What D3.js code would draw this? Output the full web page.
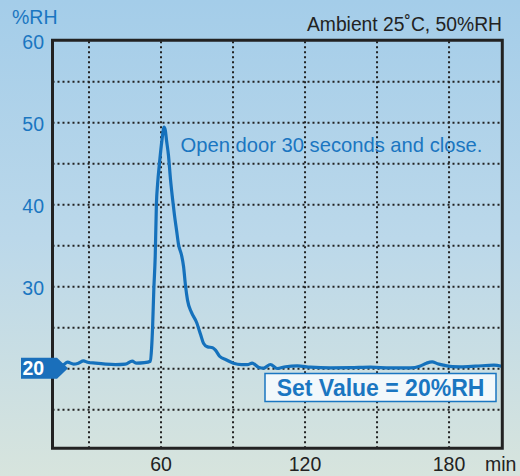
<!DOCTYPE html>
<html><head><meta charset="utf-8">
<script src="https://cdn.jsdelivr.net/npm/d3@7"></script>
<style>
html,body{margin:0;padding:0;}
svg{display:block;font-family:"Liberation Sans",Arial,Helvetica,sans-serif;}
</style></head>
<body>
<script>
// ---- data ----
const timeMin = [15,17.1,19.2,21.25,23.75,25.8,27.9,29.6,32.9,37.1,41.25,45.4,48.2,50,53.3,55.8,
  56.3,56.7,57.2,57.8,58.3,58.8,59.6,60.6,61.5,62.0,62.5,63.3,64.2,65,65.8,66.7,67.5,68.75,69.6,70.4,71.25,72.9,75,76.7,77.9,79.6,81.7,82.9,84.6,87.5,
  90.4,93.75,96.25,98.2,100.8,103,105.8,108.6,112.1,117,122.5,130.8,139.2,147.5,155.8,164.2,168.3,170.8,173.2,175.4,178,181.7,185,191.25,198.9,202.1];
const humidity = [20.49,20.49,20.37,20.73,20.49,20.61,20.89,20.73,20.61,20.49,20.43,20.49,20.85,20.61,20.67,20.85,
  22.5,25,29.5,33.7,40.1,42.5,45.1,47.8,49.4,49.0,47.8,46.0,42.9,40.7,38.7,36.8,35.1,33.8,32.4,30.1,28.3,26.8,25.6,24.1,23.05,22.6,22.5,22.2,21.46,21.0,
  20.6,20.43,20.43,20.61,20.12,20.0,20.45,19.96,20.18,20.28,20.12,20.04,20.06,20.12,20.04,20.04,20.28,20.61,20.77,20.55,20.37,20.18,20.16,20.24,20.37,20.24];
const yTickLabels = [30,40,50,60];
const xTickLabels = [60,120,180];
const xGrid = [30,60,90,120,150,180];
const yGrid = [15,20,25,30,35,40,45,50,55];
const setValue = 20;
const titleText = "Ambient 25˚C, 50%RH";
const noteText = "Open door 30 seconds and close.";
const setText = "Set Value = 20%RH";
const yUnit = "%RH";
const xUnit = "min";

// ---- layout ----
const W = 520, H = 476;
const L = 52.5, R = 502.3, T = 40.2, B = 448.3;
const blue = "#1a76c1", lineBlue = "#1571bc", dark = "#222";

const x = d3.scaleLinear().domain([15, 202.4]).range([L, R]);
const y = d3.scaleLinear().domain([10.23, 60]).range([B, T]);

const svg = d3.select("body").append("svg").attr("width", W).attr("height", H);
const defs = svg.append("defs");
const g = defs.append("linearGradient").attr("id","bg").attr("x1",0).attr("y1",0).attr("x2",0).attr("y2",1);
g.append("stop").attr("offset","0%").attr("stop-color","#a4cde9");
g.append("stop").attr("offset","50%").attr("stop-color","#bbd8ea");
g.append("stop").attr("offset","100%").attr("stop-color","#d7e4dd");
svg.append("rect").attr("width",W).attr("height",H).attr("fill","url(#bg)");

// grid
const gx = svg.append("g").attr("transform",`translate(0,${B})`)
  .call(d3.axisBottom(x).tickValues(xGrid).tickSize(-(B-T)).tickFormat(""));
const gy = svg.append("g").attr("transform",`translate(${L},0)`)
  .call(d3.axisLeft(y).tickValues(yGrid).tickSize(-(R-L)).tickFormat(""));
[gx,gy].forEach(a=>{
  a.select(".domain").remove();
  a.selectAll(".tick line").attr("stroke",dark).attr("stroke-width",2).attr("stroke-dasharray","2,3");
});

// line
const data = timeMin.map((t,i)=>({t, v: humidity[i]}));
svg.append("path").datum(data)
  .attr("fill","none").attr("stroke",lineBlue).attr("stroke-width",3.2).attr("stroke-linejoin","round")
  .attr("d", d3.line().x(d=>x(d.t)).y(d=>y(d.v)).curve(d3.curveMonotoneX));

// frame
svg.append("path")
  .attr("d",`M${L},${T}H${R}V${B}H${L}Z`)
  .attr("fill","none").attr("stroke",dark).attr("stroke-width",3);

// y axis labels
const ya = svg.append("g").attr("transform",`translate(${L},0)`)
  .call(d3.axisLeft(y).tickValues(yTickLabels).tickSize(0).tickPadding(8.5));
ya.select(".domain").remove();
ya.selectAll("text").attr("fill",blue).attr("font-size","19.5px").attr("dy","0.42em")
  .attr("font-family","Liberation Sans, Arial, sans-serif");
svg.append("text").attr("x",12).attr("y",24).attr("fill",blue).attr("font-size","19.5px").text(yUnit);

// x axis labels
const xa = svg.append("g").attr("transform",`translate(0,${B})`)
  .call(d3.axisBottom(x).tickValues(xTickLabels).tickSize(0).tickPadding(8.6));
xa.select(".domain").remove();
xa.selectAll("text").attr("fill",dark).attr("font-size","19.5px")
  .attr("font-family","Liberation Sans, Arial, sans-serif");
svg.append("text").attr("x",485).attr("y",470.7).attr("fill",dark).attr("font-size","19.5px").text(xUnit);

// title
svg.append("text").attr("x",502).attr("y",30.7).attr("text-anchor","end").attr("fill",dark)
  .attr("font-size","19.3px").text(titleText);

// annotation
svg.append("text").attr("x",180.5).attr("y",151.7).attr("fill",blue).attr("font-size","20.2px").text(noteText);

// set value marker
const ys = y(setValue);
svg.append("path")
  .attr("d",`M21,${ys-10.5}H57L68,${ys}L57,${ys+10.5}H21Z`)
  .attr("fill","#1a6fbb");
svg.append("text").attr("x",22.5).attr("y",ys+6.6).attr("fill","#fff").attr("font-weight","bold")
  .attr("font-size","19.5px").text(String(setValue));

// set value box
svg.append("rect").attr("x",265).attr("y",373.5).attr("width",231).attr("height",28)
  .attr("fill","#f2f8fb").attr("stroke",blue).attr("stroke-width",1.5);
svg.append("text").attr("x",380.5).attr("y",396).attr("text-anchor","middle").attr("fill",blue)
  .attr("font-weight","bold").attr("font-size","23px").text(setText);
</script>
</body></html>
